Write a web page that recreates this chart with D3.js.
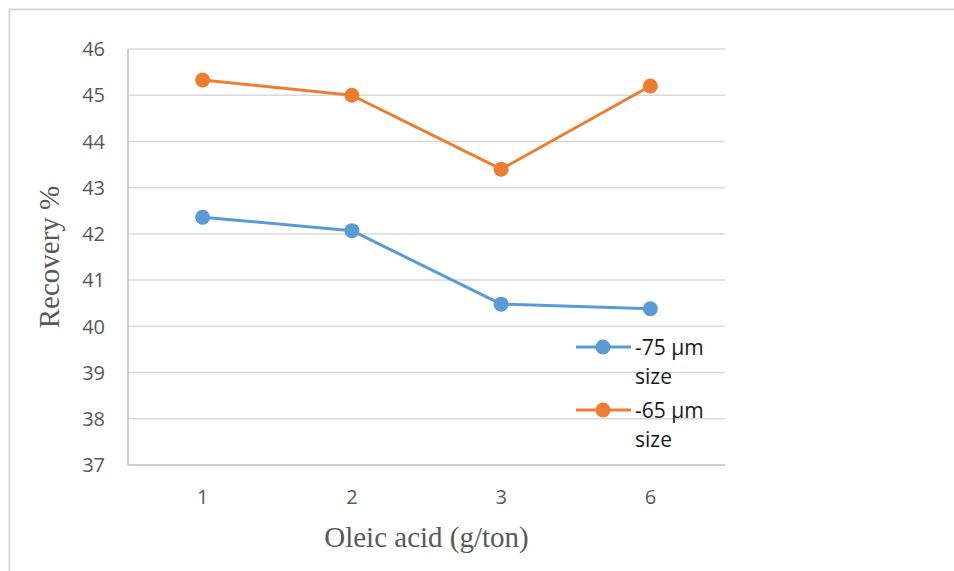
<!DOCTYPE html>
<html>
<head>
<meta charset="utf-8">
<script src="https://cdn.jsdelivr.net/npm/d3@7/dist/d3.min.js"></script>
<style>
  body { margin: 0; background: #fff; }
  svg { display: block; }
</style>
</head>
<body>
<div id="chart"></div>
<script>
var doses = ["1", "2", "3", "6"];
var size75 = [42.36, 42.07, 40.48, 40.38];
var size65 = [45.33, 45.0, 43.40, 45.2];
var yTicks = [37, 38, 39, 40, 41, 42, 43, 44, 45, 46];
var seriesNames = [["-75 µm", "size"], ["-65 µm", "size"]];
var seriesColors = ["#5b9bd5", "#ed7d31"];

var W = 954, H = 571;
var plotLeft = 128, plotRight = 725, plotTop = 49, plotBottom = 465;

var svg = d3.select("#chart").append("svg")
  .attr("width", W).attr("height", H);

// outer frame, only top and left edges show
svg.append("rect")
  .attr("x", 9.5).attr("y", 9.5)
  .attr("width", 980).attr("height", 600)
  .attr("fill", "none").attr("stroke", "#d9d9d9").attr("stroke-width", 2);

var x = d3.scalePoint().domain(doses).range([plotLeft, plotRight]).padding(0.5);
var y = d3.scaleLinear().domain([37, 46]).range([plotBottom, plotTop]);

// gridlines
svg.append("g").selectAll("line")
  .data(yTicks.slice(1))
  .enter().append("line")
    .attr("x1", plotLeft).attr("x2", plotRight)
    .attr("y1", function (d) { return y(d); })
    .attr("y2", function (d) { return y(d); })
    .attr("stroke", "#d9d9d9").attr("stroke-width", 1.5);

// axis lines
svg.append("line")
  .attr("x1", plotLeft).attr("x2", plotLeft).attr("y1", plotTop).attr("y2", plotBottom)
  .attr("stroke", "#bfbfbf").attr("stroke-width", 1.5);
svg.append("line")
  .attr("x1", plotLeft).attr("x2", plotRight).attr("y1", plotBottom).attr("y2", plotBottom)
  .attr("stroke", "#bfbfbf").attr("stroke-width", 1.5);

// tick labels
svg.append("g").selectAll("text")
  .data(yTicks)
  .enter().append("text")
    .attr("x", 105)
    .attr("y", function (d) { return y(d); })
    .attr("dy", "0.36em")
    .attr("text-anchor", "end")
    .style("font-family", "Open Sans, sans-serif")
    .style("font-size", "20px")
    .style("fill", "#595959")
    .text(function (d) { return d; });

svg.append("g").selectAll("text")
  .data(doses)
  .enter().append("text")
    .attr("x", function (d) { return x(d); })
    .attr("y", 497)
    .attr("dy", "0.36em")
    .attr("text-anchor", "middle")
    .style("font-family", "Open Sans, sans-serif")
    .style("font-size", "20px")
    .style("fill", "#595959")
    .text(function (d) { return d; });

// axis titles
svg.append("text")
  .attr("x", (plotLeft + plotRight) / 2).attr("y", 547)
  .attr("text-anchor", "middle")
  .style("font-family", "Liberation Serif, Times New Roman, serif")
  .style("font-size", "29px")
  .style("fill", "#595959")
  .text("Oleic acid (g/ton)");

svg.append("text")
  .attr("transform", "translate(59," + ((plotTop + plotBottom) / 2) + ") rotate(-90)")
  .attr("text-anchor", "middle")
  .style("font-family", "Liberation Serif, Times New Roman, serif")
  .style("font-size", "29px")
  .style("fill", "#595959")
  .text("Recovery %");

// series
var line = d3.line()
  .x(function (d, i) { return x(doses[i]); })
  .y(function (d) { return y(d); });

[size75, size65].forEach(function (vals, k) {
  svg.append("path")
    .datum(vals)
    .attr("d", line)
    .attr("fill", "none")
    .attr("stroke", seriesColors[k])
    .attr("stroke-width", 3)
    .attr("stroke-linejoin", "round");
  svg.append("g").selectAll("circle")
    .data(vals)
    .enter().append("circle")
      .attr("cx", function (d, i) { return x(doses[i]); })
      .attr("cy", function (d) { return y(d); })
      .attr("r", 7.5)
      .attr("fill", seriesColors[k]);
});

// legend
var legend = svg.append("g");
seriesNames.forEach(function (name, k) {
  var ly = 347 + k * 63;
  legend.append("line")
    .attr("x1", 576).attr("x2", 631).attr("y1", ly).attr("y2", ly)
    .attr("stroke", seriesColors[k]).attr("stroke-width", 3);
  legend.append("circle")
    .attr("cx", 603).attr("cy", ly).attr("r", 7.5)
    .attr("fill", seriesColors[k]);
  var t = legend.append("text")
    .attr("x", 635).attr("y", ly)
    .attr("dy", "0.36em")
    .style("font-family", "Open Sans, sans-serif")
    .style("font-size", "21px")
    .style("fill", "#1a1a1a");
  t.append("tspan").attr("x", 635).text(name[0]);
  t.append("tspan").attr("x", 635).attr("dy", "1.4em").text(name[1]);
});
</script>
</body>
</html>
